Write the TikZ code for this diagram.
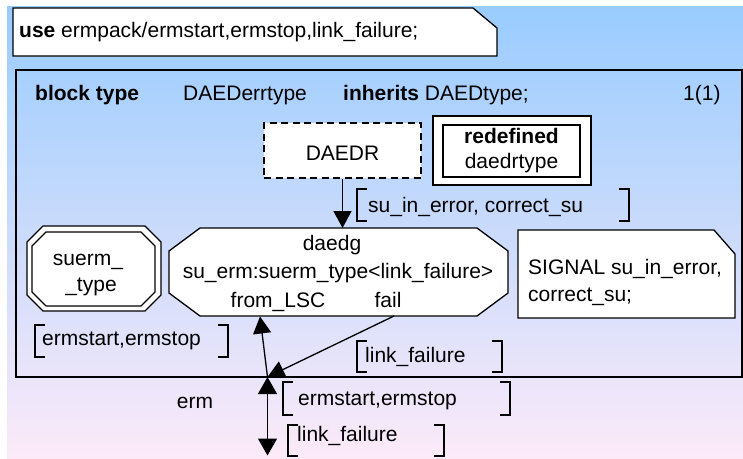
\documentclass[tikz,border=0pt]{standalone}
\usepackage{fontspec}
\setmainfont{Liberation Sans}
\usetikzlibrary{arrows.meta,calc}
\pgfdeclarelayer{back}
\pgfdeclarelayer{shapes}
\pgfsetlayers{back,shapes,main}
\definecolor{bgtop}{RGB}{153,204,255}
\definecolor{bgbot}{RGB}{252,234,249}
\newcommand\sdlsiglist[4]{%
  \draw[sigbr] (#1+10,#2) -- (#1,#2) -- (#1,#4) -- (#1+10,#4);
  \draw[sigbr] (#3-10,#2) -- (#3,#2) -- (#3,#4) -- (#3-10,#4);
}
\tikzset{
  lw/.style={line width=1.3pt},
  sigbr/.style={line width=1.3pt},
  frame/.style={draw, line width=2pt, inner sep=0pt},
  holder/.style={inner sep=0pt, outer sep=0pt},
  txt/.style={inner sep=0pt, anchor=base west},
  ctxt/.style={inner sep=0pt, anchor=base},
  shapeline/.style={draw, fill=white, line width=1.3pt},
  flow/.style={line width=1.3pt, -{Triangle[length=17pt,width=18pt]}},
  bflow/.style={line width=1.3pt, {Triangle[length=17pt,width=19pt]}-{Triangle[length=17pt,width=19pt]}},
}
\begin{document}
\begin{tikzpicture}[x=1pt,y=-1pt, font=\fontsize{21}{25}\selectfont]
\useasboundingbox (0,0) rectangle (743,458);
\begin{pgfonlayer}{back}
  \shade[top color=bgtop, bottom color=bgbot] (7,6) rectangle (743,458);
\end{pgfonlayer}

% use note
\node[holder, minimum width=484pt, minimum height=48pt] (use) at (255,32) {};
\begin{pgfonlayer}{shapes}
  \path[shapeline] (use.north west) -- ([xshift=-24pt]use.north east) -- ([yshift=-20pt]use.north east)
     -- (use.south east) -- (use.south west) -- cycle;
\end{pgfonlayer}
\node[txt] (usetext) at (19,37) {\textbf{use} ermpack/ermstart,ermstop,link\_failure;};

% block frame
\node[frame, minimum width=726pt, minimum height=307pt] (block) at (379,223.5) {};
\node[txt] (bt) at (35,100) {\textbf{block type}};
\node[txt] (bn) at (183,100) {DAEDerrtype};
\node[txt] (inh) at (343,100) {\textbf{inherits} DAEDtype;};
\node[txt] (pg) at (683,100) {1(1)};

% DAEDR (dashed)
\node[draw, fill=white, line width=2.2pt, dash pattern=on 7pt off 4.5pt, inner sep=0pt,
      minimum width=157pt, minimum height=55pt] (daedr) at (342.5,150.5) {};
\node[ctxt] (daedrtext) at (342.5,160) {DAEDR};

% redefined
\node[draw, fill=white, line width=1.6pt, inner sep=0pt, minimum width=158pt, minimum height=69pt] (redef) at (512,150.5) {};
\node[draw, line width=1.6pt, inner sep=0pt, minimum width=137pt, minimum height=52pt] (redefin) at (511.5,151) {};
\node[ctxt] (rd1) at (511.5,143) {\textbf{redefined}};
\node[ctxt] (rd2) at (511.5,168) {daedrtype};

% signal list su_in_error
\sdlsiglist{357}{189}{629}{221}
\node[txt] (sl1) at (368,212) {su\_in\_error, correct\_su};

% daedg octagon
\node[holder, minimum width=339pt, minimum height=88pt] (daedg) at (338.5,272) {};
\begin{pgfonlayer}{shapes}
  \path[shapeline] ([xshift=31pt]daedg.north west) -- ([xshift=-31pt]daedg.north east)
    -- ([yshift=-23pt]daedg.north east) -- ([yshift=23pt]daedg.south east)
    -- ([xshift=-31pt]daedg.south east) -- ([xshift=31pt]daedg.south west)
    -- ([yshift=23pt]daedg.south west) -- ([yshift=-23pt]daedg.north west) -- cycle;
\end{pgfonlayer}
\node[ctxt] (dg1) at (332,250) {daedg};
\node[ctxt] (dg2) at (338,278) {su\_erm:suerm\_type<link\_failure>};
\node[ctxt] (dg3) at (278,307) {from\_LSC};
\node[ctxt] (dg4) at (388,307) {fail};

% suerm_type double octagon
\node[holder, minimum width=134pt, minimum height=85pt] (suerm) at (94,268.5) {};
\node[holder, minimum width=123pt, minimum height=74pt] (suermin) at (93.5,269) {};
\begin{pgfonlayer}{shapes}
  \path[shapeline] ([xshift=16pt]suerm.north west) -- ([xshift=-16pt]suerm.north east)
    -- ([yshift=-16pt]suerm.north east) -- ([yshift=16pt]suerm.south east)
    -- ([xshift=-16pt]suerm.south east) -- ([xshift=16pt]suerm.south west)
    -- ([yshift=16pt]suerm.south west) -- ([yshift=-16pt]suerm.north west) -- cycle;
  \path[shapeline] ([xshift=14pt]suermin.north west) -- ([xshift=-14pt]suermin.north east)
    -- ([yshift=-14pt]suermin.north east) -- ([yshift=14pt]suermin.south east)
    -- ([xshift=-14pt]suermin.south east) -- ([xshift=14pt]suermin.south west)
    -- ([yshift=14pt]suermin.south west) -- ([yshift=-14pt]suermin.north west) -- cycle;
\end{pgfonlayer}
\node[ctxt] (su1) at (88,265) {suerm\_};
\node[ctxt] (su2) at (91,291) {\_type};

% SIGNAL note
\node[holder, minimum width=217pt, minimum height=88pt] (signote) at (626.5,274) {};
\begin{pgfonlayer}{shapes}
  \path[shapeline] (signote.north west) -- ([xshift=-21pt]signote.north east) -- ([yshift=-24pt]signote.north east)
     -- (signote.south east) -- (signote.south west) -- cycle;
\end{pgfonlayer}
\node[txt] (sg1) at (528,274) {SIGNAL su\_in\_error,};
\node[txt] (sg2) at (528,301) {correct\_su;};

% signal lists near the gate
\sdlsiglist{35}{325}{228}{357}
\node[txt] (sl2) at (42,345) {ermstart,ermstop};
\sdlsiglist{357}{341}{502}{372}
\node[txt] (sl3) at (365,362) {link\_failure};
\sdlsiglist{283}{382}{510}{415}
\node[txt] (sl4) at (298,405) {ermstart,ermstop};
\sdlsiglist{288}{425}{444}{456}
\node[txt] (sl5) at (297,441) {link\_failure};
\node[ctxt] (erm) at (195,408) {erm};

% connectors
\coordinate (junc) at (267.5,377);
\coordinate (failport) at (394,316);
\coordinate (lscport) at (260,316.5);
\coordinate (ermend) at (267.5,455.5);
\draw[flow] (daedr.south) -- (daedr.south |- daedg.north);
\draw[flow] (failport) -- (junc);
\draw[flow] (junc) -- (lscport);
\draw[bflow] (junc) -- (ermend);
\end{tikzpicture}
\end{document}
